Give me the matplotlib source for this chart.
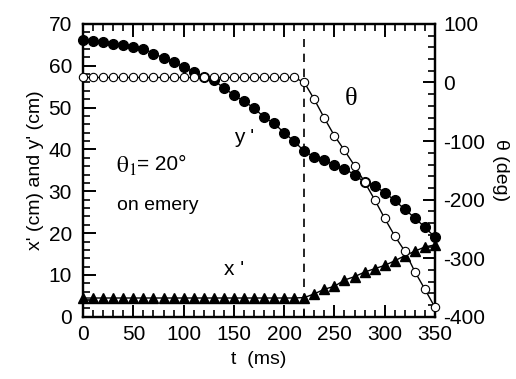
import matplotlib
matplotlib.use("Agg")
import matplotlib.pyplot as plt
import numpy as np
from matplotlib.ticker import MultipleLocator

plt.rcParams['font.family'] = ['Liberation Sans', 'DejaVu Sans']
plt.rcParams['mathtext.fontset'] = 'stix'
plt.rcParams['axes.unicode_minus'] = False

t = list(range(0, 360, 10))
y_prime = [66.2, 66.0, 65.7, 65.3, 64.9, 64.5, 64.1, 62.9, 61.9, 60.9,
           59.7, 58.5, 57.3, 56.5, 54.7, 53.0, 51.5, 49.9, 47.7, 46.2,
           44.0, 41.9, 39.6, 38.2, 37.5, 36.2, 35.3, 34.0, 32.1, 31.3,
           29.7, 27.8, 25.7, 23.6, 21.4, 19.0]
x_prime = [4.5] * 22 + [4.6, 5.5, 6.6, 7.3, 8.8, 9.6, 10.7, 11.5, 12.3, 13.4,
                        14.6, 15.7, 16.7, 17.2]
theta = [8.5] * 22 + [0, -29, -61, -91, -116, -142, -170, -200, -232, -262,
                      -288, -323, -353, -384]
t_switch = 220

fig = plt.figure(figsize=(5.16, 3.79), dpi=100)
ax = fig.add_axes([0.161, 0.164, 0.682, 0.773])
ax2 = ax.twinx()

ax.plot(t, y_prime, '-', color='black', lw=1.0, marker='o', ms=7.0,
        mfc='black', mec='black', clip_on=False, zorder=3)
ax.plot(t, x_prime, '-', color='black', lw=1.0, marker='^', ms=7.0,
        mfc='black', mec='black', clip_on=False, zorder=3)
ax2.plot(t, theta, '-', color='black', lw=1.0, marker='o', ms=6.0,
         mfc='white', mec='black', mew=0.8, clip_on=False, zorder=3)
ax.axvline(t_switch, ymin=0, ymax=0.95, color='black', lw=1.2,
           dashes=(5, 4))

ax.set_xlim(0, 350)
ax.set_ylim(0, 70)
ax2.set_ylim(-400, 100)

ax.xaxis.set_major_locator(MultipleLocator(50))
ax.xaxis.set_minor_locator(MultipleLocator(10))
ax.yaxis.set_major_locator(MultipleLocator(10))
ax.yaxis.set_minor_locator(MultipleLocator(2))
ax2.yaxis.set_major_locator(MultipleLocator(100))
ax2.yaxis.set_minor_locator(MultipleLocator(20))

for a in (ax, ax2):
    for s in a.spines.values():
        s.set_linewidth(1.6)
ax.tick_params(axis='x', which='both', direction='in', top=True, bottom=True,
               labelsize=15, pad=6)
ax.tick_params(axis='y', which='both', direction='in', left=True, right=False,
               labelsize=15, pad=8)
ax.tick_params(which='major', length=9, width=1.4)
ax.tick_params(which='minor', length=5, width=1.2)
ax2.tick_params(axis='y', which='both', direction='in', right=True,
                labelsize=15, pad=6)
ax2.tick_params(which='major', length=9, width=1.4)
ax2.tick_params(which='minor', length=5, width=1.2)

ax.set_xlabel('t  (ms)', fontsize=14, labelpad=5)
ax.set_ylabel("x' (cm) and y' (cm)", fontsize=14, labelpad=3)
ax2.set_ylabel('θ (deg)', fontsize=14, rotation=270, labelpad=17)

ax.text(267, 52, 'θ', fontsize=19, ha='center', va='center',
        family='Liberation Serif')
ax.text(160, 42.8, "y '", fontsize=15, ha='center', va='center')
ax.text(150, 11.2, "x '", fontsize=15, ha='center', va='center')
ax.text(33, 36, r'$\mathrm{θ}_{\mathrm{1}}$', fontsize=17, ha='left', va='center')
ax.text(54, 36.4, '= 20°', fontsize=15, ha='left', va='center')
ax.text(34, 26.7, 'on emery', fontsize=14, ha='left', va='center')

fig.savefig('out.png', dpi=100)
